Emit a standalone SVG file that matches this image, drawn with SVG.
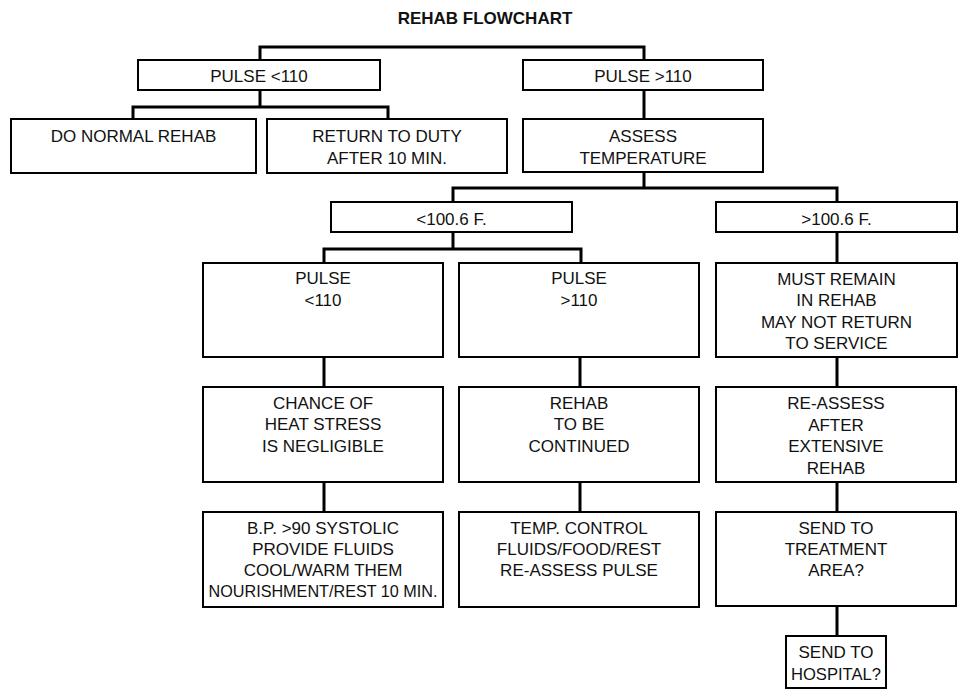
<svg xmlns="http://www.w3.org/2000/svg" width="960" height="692" viewBox="0 0 960 692">
  <style>
    .box { fill: #ffffff; stroke: #000000; stroke-width: 2; }
    .lbl { font-family: "Liberation Sans", Arial, sans-serif; font-size: 17px; fill: #111111; text-anchor: middle; }
    .title { font-family: "Liberation Sans", Arial, sans-serif; font-size: 17px; font-weight: bold; fill: #111111; text-anchor: middle; }
    .wire { fill: none; stroke: #000000; stroke-width: 3; }
  </style>
  <rect width="960" height="692" fill="#ffffff"/>

  <text class="title" x="485" y="24">REHAB FLOWCHART</text>

  <!-- connectors -->
  <g id="connectors">
    <path class="wire" d="M260,60 V47 H644 V60"/>
    <path class="wire" d="M260,90 V107 M133,119 V107 H388 V119"/>
    <path class="wire" d="M644,90 V119"/>
    <path class="wire" d="M644,172 V188 M453,202 V188 H837 V202"/>
    <path class="wire" d="M453,232 V249 M324,263 V249 H581 V263"/>
    <path class="wire" d="M837,232 V263"/>
    <path class="wire" d="M324,357 V387 M324,482 V512"/>
    <path class="wire" d="M580,357 V387 M580,482 V512"/>
    <path class="wire" d="M837,357 V387 M837,482 V512 M837,606 V636"/>
  </g>

  <!-- nodes -->
  <g id="pulse-low">
    <rect class="box" x="138" y="60" width="242" height="30"/>
    <text class="lbl" x="259" y="81.5">PULSE &lt;110</text>
  </g>
  <g id="pulse-high">
    <rect class="box" x="523" y="60" width="240" height="30"/>
    <text class="lbl" x="643" y="81.5">PULSE &gt;110</text>
  </g>
  <g id="normal-rehab">
    <rect class="box" x="11" y="119" width="245" height="54"/>
    <text class="lbl" x="133.5" y="142">DO NORMAL REHAB</text>
  </g>
  <g id="return-duty">
    <rect class="box" x="267" y="119" width="240" height="54"/>
    <text class="lbl" x="387" y="142">RETURN TO DUTY</text>
    <text class="lbl" x="387" y="164">AFTER 10 MIN.</text>
  </g>
  <g id="assess-temp">
    <rect class="box" x="523" y="119" width="240" height="53"/>
    <text class="lbl" x="643" y="142">ASSESS</text>
    <text class="lbl" x="643" y="164">TEMPERATURE</text>
  </g>
  <g id="temp-low">
    <rect class="box" x="331" y="202" width="241" height="30"/>
    <text class="lbl" x="451.5" y="224.5">&lt;100.6 F.</text>
  </g>
  <g id="temp-high">
    <rect class="box" x="716" y="202" width="241" height="30"/>
    <text class="lbl" x="836.5" y="224.5">&gt;100.6 F.</text>
  </g>
  <g id="pulse2-low">
    <rect class="box" x="203" y="263" width="240" height="94"/>
    <text class="lbl" x="323" y="284">PULSE</text>
    <text class="lbl" x="323" y="306">&lt;110</text>
  </g>
  <g id="pulse2-high">
    <rect class="box" x="459" y="263" width="240" height="94"/>
    <text class="lbl" x="579" y="284">PULSE</text>
    <text class="lbl" x="579" y="306">&gt;110</text>
  </g>
  <g id="must-remain">
    <rect class="box" x="716" y="263" width="241" height="94"/>
    <text class="lbl" x="836.5" y="284.5">MUST REMAIN</text>
    <text class="lbl" x="836.5" y="306">IN REHAB</text>
    <text class="lbl" x="836.5" y="327.5">MAY NOT RETURN</text>
    <text class="lbl" x="836.5" y="348.5">TO SERVICE</text>
  </g>
  <g id="heat-stress">
    <rect class="box" x="203" y="387" width="240" height="95"/>
    <text class="lbl" x="323" y="408.5">CHANCE OF</text>
    <text class="lbl" x="323" y="430">HEAT STRESS</text>
    <text class="lbl" x="323" y="451.5">IS NEGLIGIBLE</text>
  </g>
  <g id="rehab-continued">
    <rect class="box" x="459" y="387" width="240" height="95"/>
    <text class="lbl" x="579" y="408.5">REHAB</text>
    <text class="lbl" x="579" y="430">TO BE</text>
    <text class="lbl" x="579" y="451.5">CONTINUED</text>
  </g>
  <g id="reassess">
    <rect class="box" x="716" y="387" width="240" height="95"/>
    <text class="lbl" x="836" y="409">RE-ASSESS</text>
    <text class="lbl" x="836" y="430.5">AFTER</text>
    <text class="lbl" x="836" y="452">EXTENSIVE</text>
    <text class="lbl" x="836" y="473.5">REHAB</text>
  </g>
  <g id="bp-fluids">
    <rect class="box" x="203" y="512" width="240" height="95"/>
    <text class="lbl" x="323" y="533.5">B.P. &gt;90 SYSTOLIC</text>
    <text class="lbl" x="323" y="554.5">PROVIDE FLUIDS</text>
    <text class="lbl" x="323" y="575.5">COOL/WARM THEM</text>
    <text class="lbl" x="323" y="596.5" textLength="229" lengthAdjust="spacingAndGlyphs">NOURISHMENT/REST 10 MIN.</text>
  </g>
  <g id="temp-control">
    <rect class="box" x="459" y="512" width="240" height="95"/>
    <text class="lbl" x="579" y="533.5">TEMP. CONTROL</text>
    <text class="lbl" x="579" y="554.5">FLUIDS/FOOD/REST</text>
    <text class="lbl" x="579" y="575.5">RE-ASSESS PULSE</text>
  </g>
  <g id="treatment-area">
    <rect class="box" x="716" y="512" width="240" height="94"/>
    <text class="lbl" x="836" y="533.5">SEND TO</text>
    <text class="lbl" x="836" y="554.5">TREATMENT</text>
    <text class="lbl" x="836" y="575.5">AREA?</text>
  </g>
  <g id="hospital">
    <rect class="box" x="786" y="636" width="100" height="52"/>
    <text class="lbl" x="836" y="657.5">SEND TO</text>
    <text class="lbl" x="836" y="679.5" textLength="90" lengthAdjust="spacingAndGlyphs">HOSPITAL?</text>
  </g>
</svg>
